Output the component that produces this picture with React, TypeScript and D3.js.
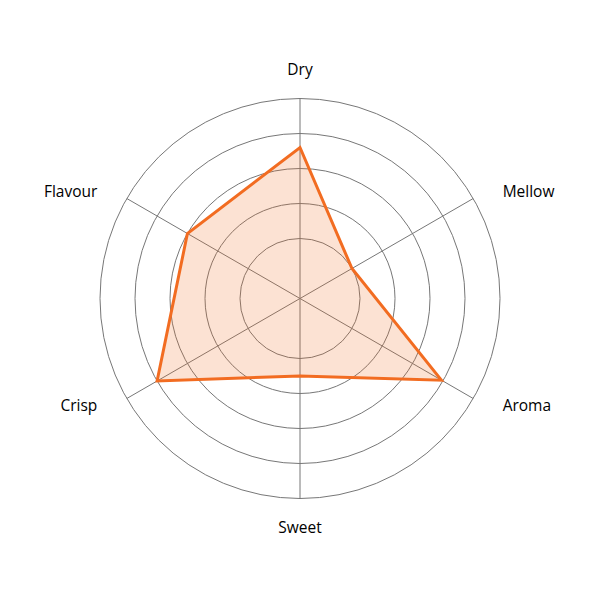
import React, { useEffect, useRef } from 'react';
import * as d3 from 'd3';

// Axes clockwise from the top
const axes = ['Dry', 'Mellow', 'Aroma', 'Sweet', 'Crisp', 'Flavour'];
const values = [3.6, 1, 3.95, 1.5, 4, 3];
const ringValues = [1, 2, 3, 4, 5];

const RadarChart: React.FC = () => {
  const svgRef = useRef<SVGSVGElement>(null);

  useEffect(() => {
    if (!svgRef.current) return;
    const svg = d3.select(svgRef.current);
    svg.selectAll('*').remove();

    const cx = 300;
    const cy = 298.5;

    const r = d3.scaleLinear().domain([0, 5]).range([25, 200]);
    const angle = d3.scalePoint<string>()
      .domain(axes)
      .range([0, 2 * Math.PI * (axes.length - 1) / axes.length]);

    const g = svg.append('g').attr('transform', `translate(${cx},${cy})`);

    // grid rings
    g.selectAll('circle.ring')
      .data(ringValues)
      .enter()
      .append('circle')
      .attr('class', 'ring')
      .attr('r', d => r(d))
      .attr('fill', 'none')
      .attr('stroke', '#777')
      .attr('stroke-width', 1);

    // spokes
    g.selectAll('line.spoke')
      .data(axes)
      .enter()
      .append('line')
      .attr('class', 'spoke')
      .attr('x1', 0)
      .attr('y1', 0)
      .attr('x2', d => Math.sin(angle(d)!) * r(5))
      .attr('y2', d => -Math.cos(angle(d)!) * r(5))
      .attr('stroke', '#777')
      .attr('stroke-width', 1);

    // data polygon
    const line = d3.lineRadial<number>()
      .angle((_, i) => angle(axes[i])!)
      .radius(d => r(d))
      .curve(d3.curveLinearClosed);

    g.append('path')
      .datum(values)
      .attr('d', line)
      .attr('fill', 'rgba(242, 108, 33, 0.2)')
      .attr('stroke', '#f26c21')
      .attr('stroke-width', 3)
      .attr('stroke-linejoin', 'miter');

    // axis labels
    const labelR = 234;
    g.selectAll('text.label')
      .data(axes)
      .enter()
      .append('text')
      .attr('class', 'label')
      .attr('x', d => Math.sin(angle(d)!) * labelR)
      .attr('y', d => {
        const a = angle(d)!;
        return -Math.cos(a) * (229 - 17.3 * Math.abs(Math.sin(a)));
      })
      .attr('dy', '0.35em')
      .attr('text-anchor', d => {
        const s = Math.sin(angle(d)!);
        return Math.abs(s) < 0.01 ? 'middle' : s > 0 ? 'start' : 'end';
      })
      .style('font-family', '"Open Sans", sans-serif')
      .style('font-size', '15.5px')
      .style('fill', '#000')
      .text(d => d);
  }, []);

  return (
    <svg
      ref={svgRef}
      width="600"
      height="600"
      style={{ position: 'absolute', left: 0, top: 0, background: '#fff' }}
    ></svg>
  );
};

export default function App() {
  return <RadarChart />;
}
